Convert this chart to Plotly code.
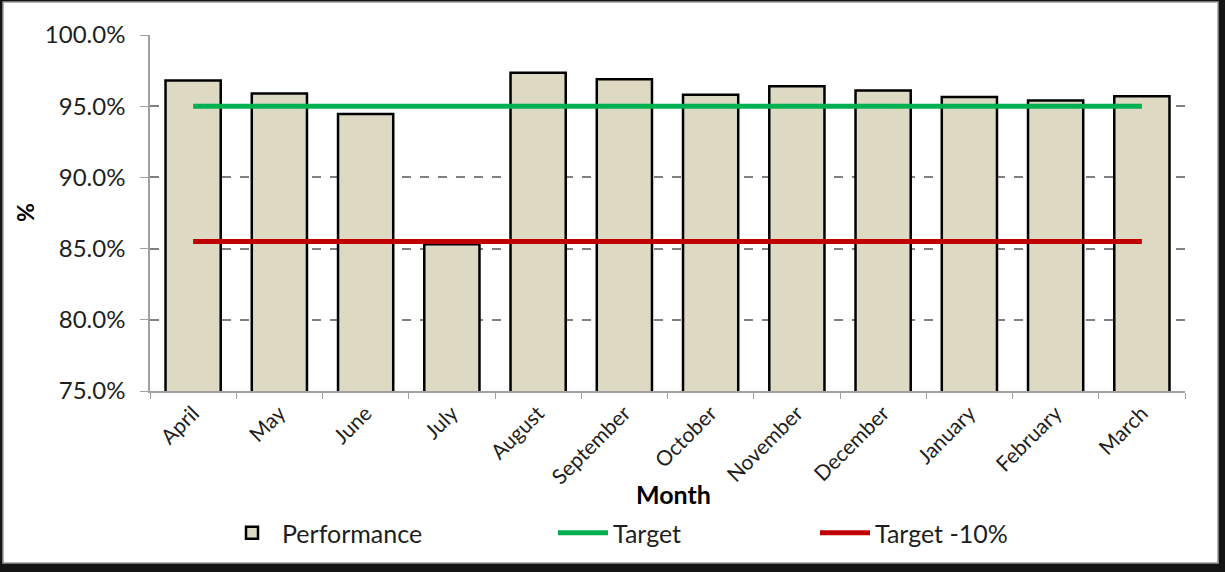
import plotly.graph_objects as go

months = ["April", "May", "June", "July", "August", "September", "October",
          "November", "December", "January", "February", "March"]
performance = [0.968, 0.959, 0.9445, 0.853, 0.9735, 0.969, 0.958, 0.964,
               0.961, 0.9565, 0.954, 0.957]
target = [0.95] * 12
target_minus_10 = [0.855] * 12
y_ticks = [0.75, 0.80, 0.85, 0.90, 0.95, 1.00]

W, H = 1225, 572
L, R, T, B = 150, 40, 35, 181
pw, ph = W - L - R, H - T - B

def px(x):
    return (x - L) / pw

def py(y):
    return (H - B - y) / ph

FONT = "Lato"
TXT = "#1E1E1E"

fig = go.Figure()
fig.add_trace(go.Bar(
    x=months, y=performance, name="Performance",
    marker=dict(color="#DDD9C3", line=dict(color="#000000", width=2.5)),
    legend="legend", showlegend=True,
))
fig.add_trace(go.Scatter(
    x=months, y=target, name="Target", mode="lines",
    line=dict(color="#00B050", width=5), legend="legend2",
))
fig.add_trace(go.Scatter(
    x=months, y=target_minus_10, name="Target -10%", mode="lines",
    line=dict(color="#C00000", width=5), legend="legend3",
))

legend_common = dict(orientation="h", yanchor="middle", xanchor="left",
                     font=dict(family=FONT, size=25, color=TXT),
                     bgcolor="rgba(0,0,0,0)", itemwidth=50)

fig.update_layout(
    width=W, height=H,
    showlegend=True,
    margin=dict(l=L, r=R, t=T, b=B, autoexpand=False),
    paper_bgcolor="#151515",
    plot_bgcolor="#FFFFFF",
    bargap=0.36,
    font=dict(family=FONT, size=22, color=TXT),
    legend=dict(x=px(222), y=py(533), **legend_common),
    legend2=dict(x=px(553), y=py(533), **legend_common),
    legend3=dict(x=px(815), y=py(533), **legend_common),
    xaxis=dict(
        showline=True, linecolor="#A0A0A0", linewidth=1.5,
        ticks="outside", tickson="boundaries", ticklen=6, tickcolor="#A0A0A0",
        tickangle=-45, tickfont=dict(family=FONT, size=21, color=TXT),
        showgrid=False, automargin=False,
    ),
    yaxis=dict(
        range=[0.75, 1.0], tickvals=y_ticks, tickformat=".1%",
        showline=True, linecolor="#A0A0A0", linewidth=1.5,
        ticks="outside", ticklen=8, tickcolor="#A0A0A0",
        ticklabelstandoff=10,
        tickfont=dict(family=FONT, size=24, color=TXT),
        showgrid=True, gridcolor="#808080", gridwidth=1.5, griddash="dash",
        zeroline=False, automargin=False,
    ),
    shapes=[dict(
        type="rect", xref="paper", yref="paper", layer="below",
        x0=px(3), x1=px(1218), y0=py(563), y1=py(2),
        fillcolor="#FFFFFF", line=dict(color="#9A9A9A", width=1.5),
    )],
    annotations=[
        dict(text="<b>Month</b>", xref="paper", yref="paper",
             x=px(673), y=py(494), showarrow=False,
             font=dict(family=FONT, size=25, color="#000000"),
             xanchor="center", yanchor="middle"),
        dict(text="<b>%</b>", xref="paper", yref="paper",
             x=px(25), y=py(213), showarrow=False, textangle=-90,
             font=dict(family=FONT, size=23, color="#000000"),
             xanchor="center", yanchor="middle"),
    ],
)

fig.write_html(
    "out.html",
    config={"displayModeBar": False},
    post_script="document.body.style.margin='0';document.body.style.overflow='hidden';",
)
